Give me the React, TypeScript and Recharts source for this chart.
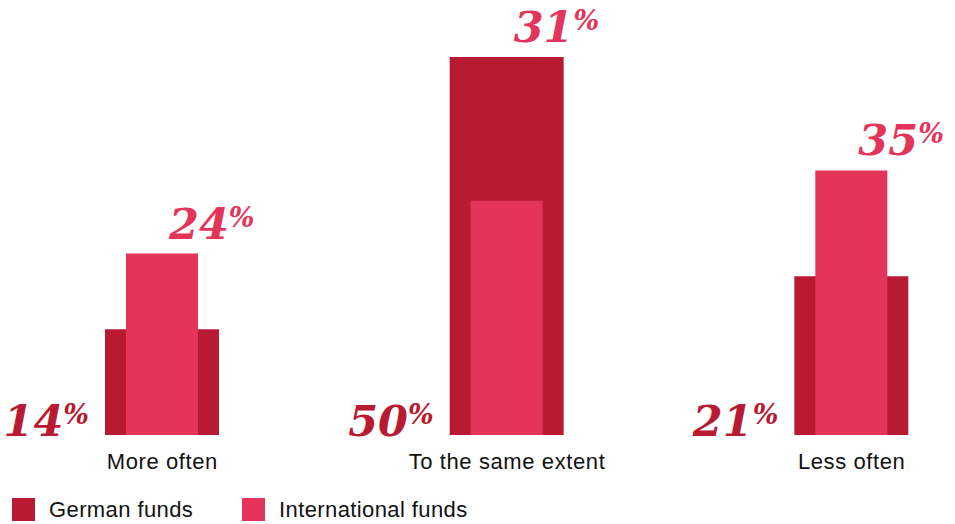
import React from "react";
import { BarChart, Bar, XAxis, YAxis, LabelList, Legend } from "recharts";

const categories = ["More often", "To the same extent", "Less often"];
const germanFunds = [14, 50, 21];
const internationalFunds = [24, 31, 35];
const seriesNames = ["German funds", "International funds"];

const data = categories.map((c, i) => ({
  category: c,
  german: germanFunds[i],
  international: internationalFunds[i],
}));

const DARK = "#B81B31";
const PINK = "#E5345A";
const SERIF = "'DejaVu Serif', Georgia, serif";
const SANS = "'Liberation Sans', Arial, Helvetica, sans-serif";

const CHART_LEFT = -10;

const GermanLabel = (props: any) => {
  const { x, y, height, value } = props;
  const baseline = Number(y) + Number(height);
  return (
    <text
      x={Number(x) - 16}
      y={baseline + 1}
      textAnchor="end"
      fill={DARK}
      fontFamily={SERIF}
      fontWeight="bold"
      fontStyle="italic"
      fontSize={43}
    >
      {value}
      <tspan fontSize={27} dy={-12}>%</tspan>
    </text>
  );
};

const IntlLabel = (props: any) => {
  const { x, y, width, height, value, index } = props;
  const base = Number(y) + Number(height);
  const perUnit = Number(height) / Number(value);
  const gTop = base - germanFunds[index] * perUnit;
  const top = Math.min(Number(y), gTop);
  const cx = Number(x) + Number(width) / 2;
  return (
    <text
      x={cx + 7}
      y={top - 15}
      textAnchor="start"
      fill={PINK}
      fontFamily={SERIF}
      fontWeight="bold"
      fontStyle="italic"
      fontSize={43}
    >
      {value}
      <tspan fontSize={27} dy={-12}>%</tspan>
    </text>
  );
};

const CategoryTick = (props: any) => {
  const { x, y, payload } = props;
  return (
    <text
      x={x}
      y={y + 26}
      textAnchor="middle"
      fill="#111"
      fontFamily={SANS}
      fontSize={22}
      letterSpacing={0.6}
    >
      {payload.value}
    </text>
  );
};

const LegendContent = () => {
  const items = [
    { name: seriesNames[0], color: DARK, left: 12 },
    { name: seriesNames[1], color: PINK, left: 242 },
  ];
  return (
    <div style={{ position: "relative", width: 600, height: 26 }}>
      {items.map((it) => (
        <div
          key={it.name}
          style={{
            position: "absolute",
            left: it.left - CHART_LEFT,
            top: 0,
            display: "flex",
            alignItems: "center",
            whiteSpace: "nowrap",
          }}
        >
          <div style={{ width: 23, height: 23, background: it.color }} />
          <span
            style={{
              marginLeft: 14,
              fontFamily: SANS,
              fontSize: 22,
              letterSpacing: 0.4,
              color: "#111",
              lineHeight: "23px",
            }}
          >
            {it.name}
          </span>
        </div>
      ))}
    </div>
  );
};

export default function App() {
  return (
    <div
      style={{
        position: "absolute",
        left: 0,
        top: 0,
        width: 955,
        height: 524,
        overflow: "hidden",
        background: "#fff",
      }}
    >
      <div style={{ position: "absolute", left: CHART_LEFT, top: 0 }}>
        <BarChart
          width={1034}
          height={524}
          data={data}
          margin={{ top: 57, right: 0, left: 0, bottom: 33 }}
        >
          <XAxis
            xAxisId="a"
            dataKey="category"
            height={30}
            axisLine={false}
            tickLine={false}
            tick={<CategoryTick />}
            interval={0}
          />
          <XAxis xAxisId="b" dataKey="category" hide />
          <YAxis domain={[0, 50]} hide />
          <Legend
            content={<LegendContent />}
            wrapperStyle={{ position: "absolute", left: 0, top: 498, width: 700 }}
          />
          <Bar
            xAxisId="a"
            dataKey="german"
            name={seriesNames[0]}
            fill={DARK}
            barSize={114}
            isAnimationActive={false}
          >
            <LabelList dataKey="german" content={<GermanLabel />} />
          </Bar>
          <Bar
            xAxisId="b"
            dataKey="international"
            name={seriesNames[1]}
            fill={PINK}
            barSize={72}
            isAnimationActive={false}
          >
            <LabelList dataKey="international" content={<IntlLabel />} />
          </Bar>
        </BarChart>
      </div>
    </div>
  );
}
